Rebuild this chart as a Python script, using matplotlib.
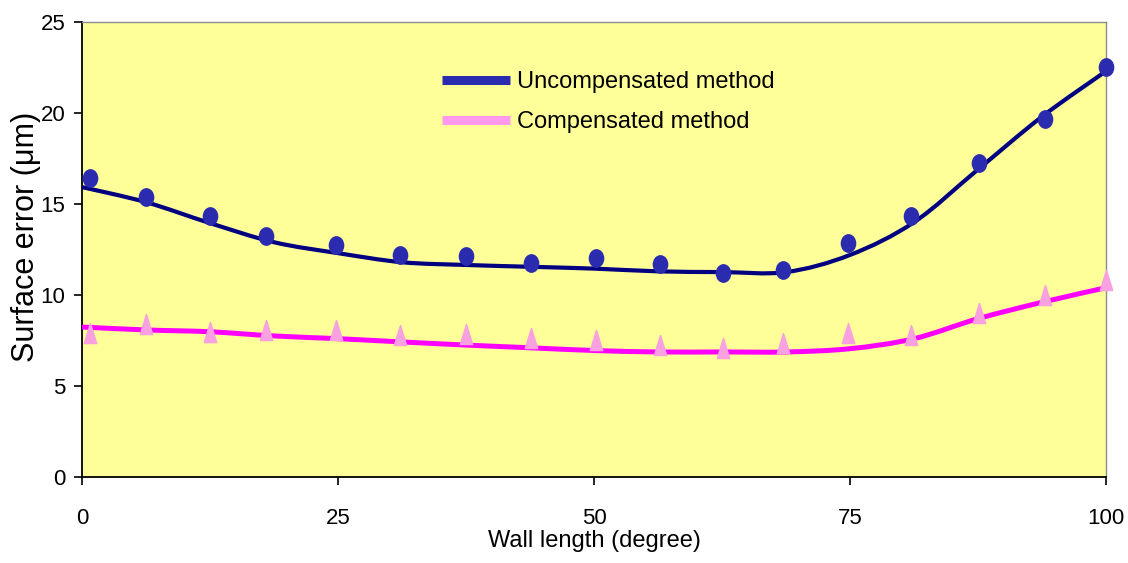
import numpy as np
import matplotlib
matplotlib.use("Agg")
import matplotlib.pyplot as plt
from matplotlib.path import Path
from matplotlib.patches import PathPatch
from matplotlib.lines import Line2D
from matplotlib.transforms import Affine2D

# Measured positions along the wall (degree)
wall_pos = [0.8, 6.25, 12.5, 18.0, 24.8, 31.1, 37.5, 43.8, 50.2, 56.4,
            62.6, 68.5, 74.8, 81.0, 87.6, 94.0, 100.0]

# Measured surface error (um)
uncomp_meas = [16.43, 15.38, 14.34, 13.24, 12.75, 12.2, 12.14, 11.76, 12.03,
               11.7, 11.2, 11.37, 12.86, 14.34, 17.25, 19.67, 22.53]
comp_meas = [7.9, 8.4, 7.97, 8.08, 8.1, 7.8, 7.86, 7.64, 7.53, 7.25, 7.09,
             7.36, 7.9, 7.8, 9.0, 10.0, 10.8]

# Trend curves
trend_pos = [0, 6.25, 12.5, 18.75, 25, 31.25, 37.5, 43.75, 50, 56.25, 62.5,
             68.75, 75, 81.25, 87.5, 93.75, 100]
uncomp_trend = [15.93, 15.1, 13.95, 12.9, 12.3, 11.8, 11.65, 11.55, 11.45,
                11.3, 11.26, 11.26, 12.2, 14.0, 16.9, 19.8, 22.3]
comp_trend = [8.24, 8.08, 7.98, 7.75, 7.6, 7.42, 7.25, 7.1, 6.95, 6.87, 6.87,
              6.87, 7.05, 7.6, 8.7, 9.6, 10.4]

x_ticks = [0, 25, 50, 75, 100]
y_ticks = [0, 5, 10, 15, 20, 25]
series_names = ["Uncompensated method", "Compensated method"]

plt.rcParams["font.family"] = ["Liberation Sans", "DejaVu Sans"]


def smooth_line(xs, ys):
    """Smoothed (Catmull-Rom style) Bezier path through the given points."""
    pts = np.column_stack([xs, ys]).astype(float)
    n = len(pts)
    verts = [pts[0]]
    codes = [Path.MOVETO]
    for i in range(n - 1):
        p0 = pts[i - 1] if i > 0 else pts[i]
        p1, p2 = pts[i], pts[i + 1]
        p3 = pts[i + 2] if i + 2 < n else pts[i + 1]
        verts += [p1 + (p2 - p0) / 6.0, p2 - (p3 - p1) / 6.0, p2]
        codes += [Path.CURVE4] * 3
    return Path(verts, codes)


# Tall ellipse and tall triangle markers
ellipse = Path.unit_circle().transformed(Affine2D().scale(0.82, 1.0))
tall_tri = Path([(0, 1), (-0.62, -1), (0.62, -1), (0, 1)],
                [Path.MOVETO, Path.LINETO, Path.LINETO, Path.CLOSEPOLY])

fig = plt.figure(figsize=(11.28, 5.63), dpi=100)
ax = fig.add_axes([82 / 1128, 86 / 563, 1024 / 1128, 455 / 563])
ax.set_facecolor("#FFFF99")

navy = "#000080"
blue_pt = "#2B2BB0"
magenta = "#FF00FF"
pink_pt = "#F9A0E0"

ax.add_patch(PathPatch(smooth_line(trend_pos, uncomp_trend), fill=False,
                       edgecolor=navy, lw=3.0, zorder=3, capstyle="butt"))
ax.add_patch(PathPatch(smooth_line(trend_pos, comp_trend), fill=False,
                       edgecolor=magenta, lw=3.6, zorder=3, capstyle="butt"))
ax.plot(wall_pos, uncomp_meas, ls="none", marker=ellipse, ms=12.5,
        color=blue_pt, mec=blue_pt, zorder=4, clip_on=False)
ax.plot(wall_pos, comp_meas, ls="none", marker=tall_tri, ms=14.5,
        color=pink_pt, mec=pink_pt, zorder=4, clip_on=False)

ax.set_xlim(0, 100)
ax.set_ylim(0, 25)
ax.set_xticks(x_ticks)
ax.set_yticks(y_ticks)
ax.tick_params(axis="both", direction="out", length=6, width=1.2,
               labelsize=16, color="black")
ax.tick_params(axis="x", pad=16)
ax.tick_params(axis="y", pad=6)

for side in ("left", "bottom"):
    ax.spines[side].set_color("black")
    ax.spines[side].set_linewidth(1.3)
for side in ("top", "right"):
    ax.spines[side].set_color("#8C8C8C")
    ax.spines[side].set_linewidth(1.0)

ax.set_xlabel("Wall length (degree)", fontsize=17)
ax.xaxis.set_label_coords(0.5, -0.14)
ax.xaxis.label.set_va("center")
ax.set_ylabel("Surface error (μm)", fontsize=22)
ax.yaxis.set_label_coords(-0.055, 0.527)
ax.yaxis.label.set_va("center")

handles = [Line2D([], [], color=blue_pt, lw=6.5, solid_capstyle="butt"),
           Line2D([], [], color="#FF99EE", lw=6.5, solid_capstyle="butt")]
ax.legend(handles, series_names, loc="upper left",
          bbox_to_anchor=(0.3516, 0.892), frameon=False, fontsize=17,
          handlelength=2.88, handletextpad=0.3, labelspacing=0.77,
          borderpad=0, borderaxespad=0)

fig.savefig("out.png", dpi=100)
